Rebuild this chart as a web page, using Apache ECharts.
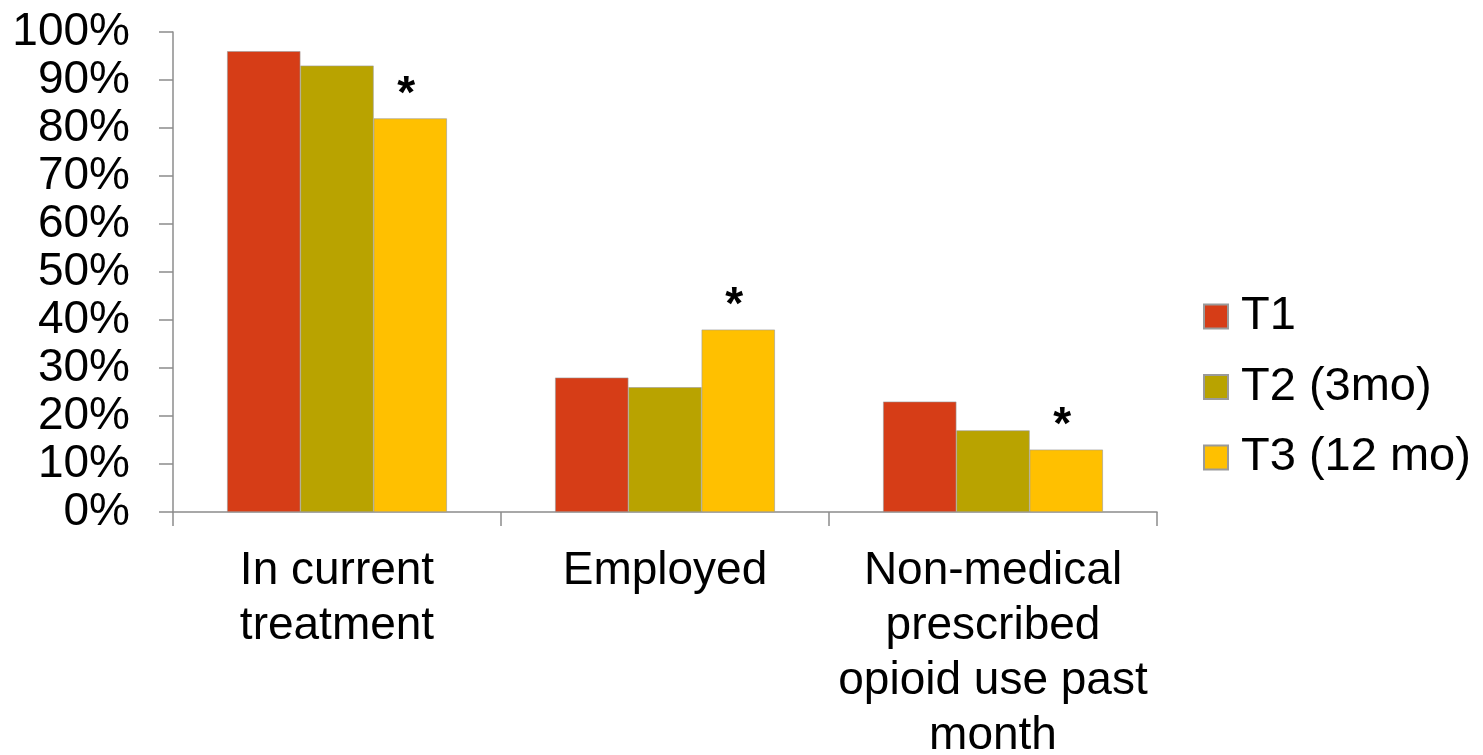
<!DOCTYPE html>
<html>
<head>
<meta charset="utf-8">
<script src="https://cdn.jsdelivr.net/npm/echarts@6/dist/echarts.min.js"></script>
<style>
html,body{margin:0;padding:0;background:#fff;}
#chart{width:1483px;height:755px;}
</style>
</head>
<body>
<div id="chart"></div>
<script>
const categories = ['In current\ntreatment', 'Employed', 'Non-medical\nprescribed\nopioid use past\nmonth'];
const seriesNames = ['T1', 'T2 (3mo)', 'T3 (12 mo)'];
const t1 = [96, 28, 23];
const t2 = [93, 26, 17];
const t3 = [82, 38, 13];
const significance = ['*', '*', '*'];
const colors = ['#D63D17', '#B9A300', '#FFC000'];

const FONT = '"Liberation Sans", Arial, sans-serif';
const chart = echarts.init(document.getElementById('chart'), null, {renderer: 'canvas'});

function mkSeries(name, data, color, withStar) {
  const s = {
    name: name,
    type: 'bar',
    data: data,
    barGap: '0%',
    barCategoryGap: '33%',
    itemStyle: {color: color, borderColor: '#9a9a9a', borderWidth: 0.6},
    emphasis: {disabled: true},
    animation: false
  };
  if (withStar) {
    s.label = {
      show: true,
      position: 'top',
      distance: 0,
      offset: [-4, 0],
      formatter: p => significance[p.dataIndex],
      fontFamily: FONT,
      fontSize: 46,
      fontWeight: 'bold',
      color: '#000'
    };
  }
  return s;
}

chart.setOption({
  animation: false,
  backgroundColor: '#fff',
  grid: {left: 173, right: 326, top: 32, bottom: 243, containLabel: false, outerBoundsMode: 'none'},
  legend: {
    orient: 'vertical',
    left: 1203,
    top: 293,
    padding: 0,
    itemWidth: 24,
    itemHeight: 24,
    itemGap: 23.5,
    icon: 'rect',
    data: seriesNames,
    textStyle: {fontFamily: FONT, fontSize: 47, color: '#000', lineHeight: 46, padding: [0, 0, 0, 8]},
    selectedMode: false
  },
  xAxis: {
    type: 'category',
    data: categories,
    axisLine: {lineStyle: {color: '#8c8c8c', width: 1.5}},
    axisTick: {show: true, length: 14, lineStyle: {color: '#8c8c8c', width: 1.5}},
    axisLabel: {
      interval: 0,
      margin: 32,
      fontFamily: FONT,
      fontSize: 46,
      lineHeight: 55,
      color: '#000',
      align: 'center'
    },
    splitLine: {show: false}
  },
  yAxis: {
    type: 'value',
    min: 0,
    max: 100,
    interval: 10,
    axisLine: {show: true, lineStyle: {color: '#8c8c8c', width: 1.5}},
    axisTick: {show: true, length: 14, lineStyle: {color: '#8c8c8c', width: 1.5}},
    axisLabel: {
      formatter: '{value}%',
      margin: 43,
      fontFamily: FONT,
      fontSize: 46,
      color: '#000'
    },
    splitLine: {show: false}
  },
  series: [
    mkSeries(seriesNames[0], t1, colors[0], false),
    mkSeries(seriesNames[1], t2, colors[1], false),
    mkSeries(seriesNames[2], t3, colors[2], true)
  ]
});
</script>
</body>
</html>
